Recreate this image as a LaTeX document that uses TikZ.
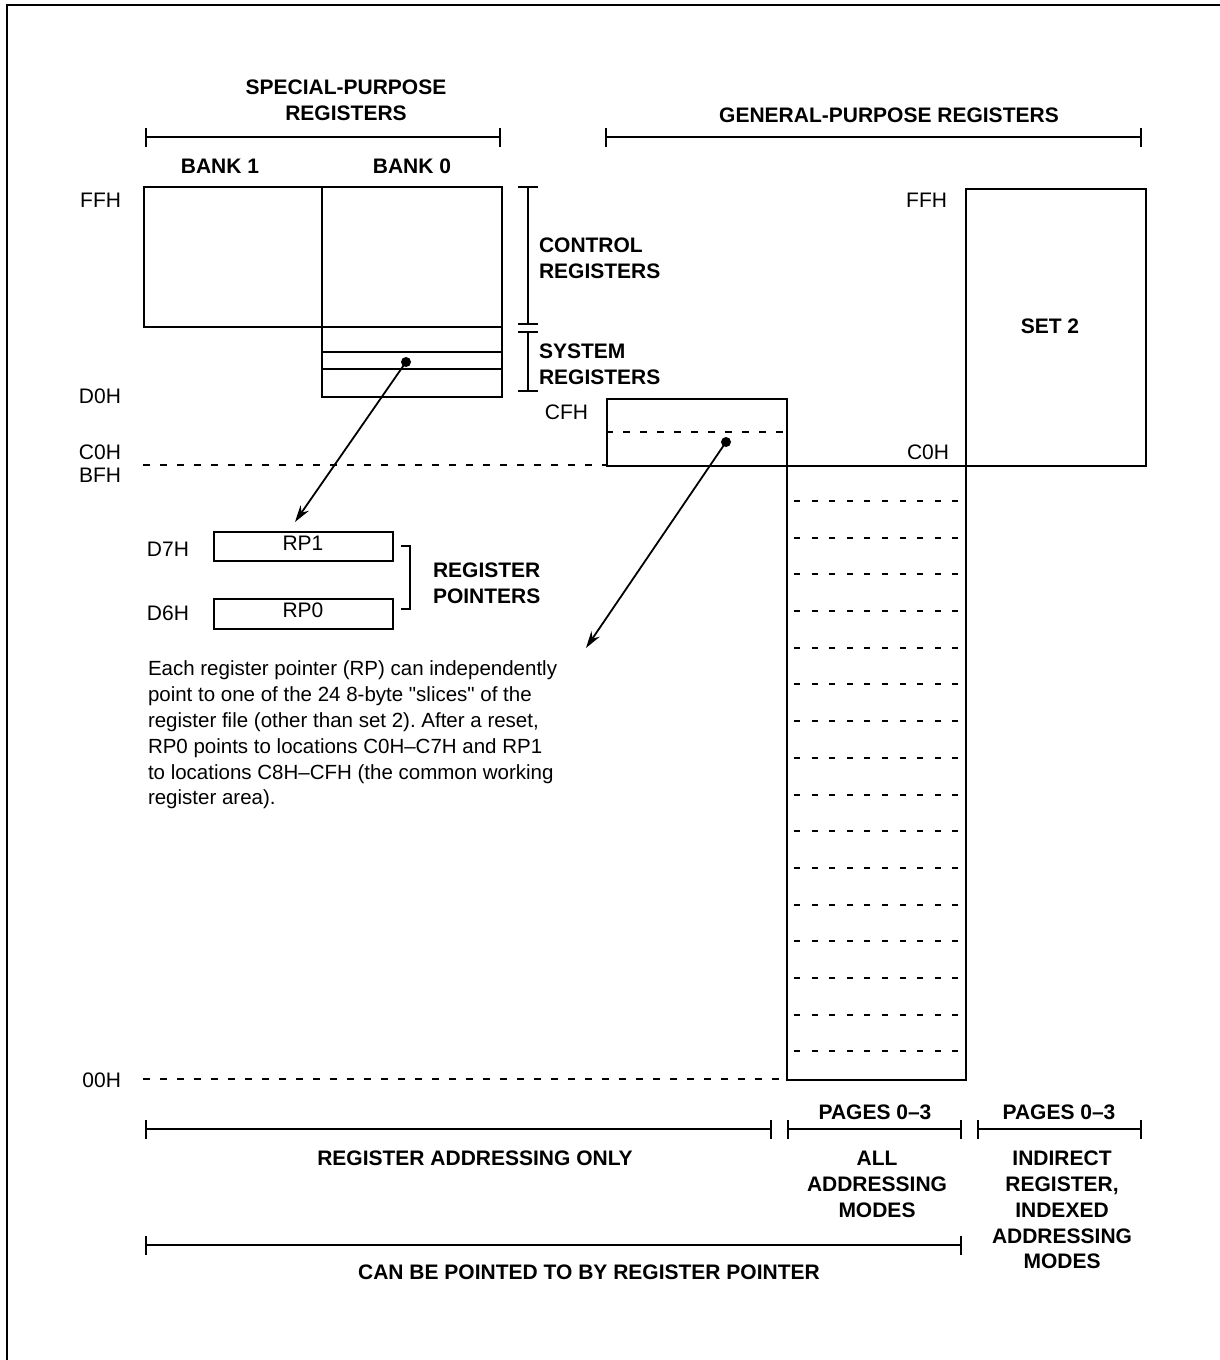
\documentclass[tikz,border=0pt]{standalone}
\usepackage{fontspec}
\setmainfont{Liberation Sans}[Ligatures=TeXOff]
\usetikzlibrary{arrows.meta}
\begin{document}
\frenchspacing
\begin{tikzpicture}[x=1pt,y=-1pt,line width=2pt,
  lbl/.style={font=\fontsize{21}{26}\selectfont,inner sep=0pt},
  blbl/.style={font=\fontsize{21}{25.8}\selectfont\bfseries,inner sep=0pt,align=center},
  regbox/.style={draw,line width=2pt,inner sep=0pt,anchor=north west},
  dashline/.style={dash pattern=on 7pt off 10pt,line width=2pt},
  inner/.style={dash pattern=on 6pt off 11.6pt,line width=2pt},
  span/.style={{Bar[width=19pt]}-{Bar[width=19pt]},line width=2pt},
  ptr/.style={-{Stealth[length=17pt,width=10pt]},line width=1.8pt},
]
\useasboundingbox (0,0) rectangle (1220,1360);
% frame (top and left edges visible)
\draw[line width=2.2pt] (7,1360) -- (7,5) -- (1220,5);

% ---------- top headings ----------
\node[blbl] (sptitle) at (346,100) {SPECIAL-PURPOSE\\REGISTERS};
\draw[span] (145,137) -- (501,137);
\node[blbl] (gptitle) at (889,115) {GENERAL-PURPOSE REGISTERS};
\draw[span] (605,137) -- (1142,137);
\node[blbl] (bank1lbl) at (220,166) {BANK 1};
\node[blbl] (bank0lbl) at (412,166) {BANK 0};

% ---------- special purpose boxes ----------
\node[regbox,minimum width=178pt,minimum height=140pt] (bank1) at (143,186) {};
\node[regbox,minimum width=180pt,minimum height=140pt] (bank0) at (321,186) {};
\node[regbox,minimum width=180pt,minimum height=70pt] (sysreg) at (321,326) {};
\draw (321,352) -- (501,352);
\draw (321,369) -- (501,369);

% control / system brackets
\draw[{Bar[width=20pt]}-{Bar[width=20pt]}] (528,186) -- (528,325);
\draw[{Bar[width=20pt]}-{Bar[width=20pt]}] (528,331) -- (528,392);
\node[blbl,anchor=west,align=left] (ctrllbl) at (538,258) {CONTROL\\REGISTERS};
\node[blbl,anchor=west,align=left] (syslbl) at (538,364) {SYSTEM\\REGISTERS};

% address labels left
\node[lbl,anchor=east] (ffhL) at (122,200) {FFH};
\node[lbl,anchor=east] (d0hL) at (122,396) {D0H};
\node[lbl,anchor=east] (c0hL) at (122,452) {C0H};
\node[lbl,anchor=east] (bfhL) at (122,475) {BFH};
\node[lbl,anchor=east] (zeroL) at (122,1080) {00H};

% dotted boundary lines
\draw[dashline] (143,465) -- (606,465);
\draw[dashline] (143,1079) -- (786,1079);

% ---------- general purpose ----------
\node[regbox,minimum width=180pt,minimum height=67pt] (cfbox) at (606,398) {};
\draw[dashline] (606,432) -- (786,432);
\node[lbl,anchor=east] (cfhL) at (589,412) {CFH};

\node[regbox,minimum width=179pt,minimum height=614pt] (bigcol) at (786,465) {};
\foreach \i in {0,...,15}{
  \pgfmathsetmacro{\yy}{round(501+36.7*\i)}
  \draw[inner] (794,\yy) -- (962,\yy);
}

\node[regbox,minimum width=180pt,minimum height=277pt] (set2) at (965,188) {};
\node[blbl] (set2lbl) at (1050,326) {SET 2};
\node[lbl,anchor=east] (ffhR) at (948,200) {FFH};
\node[lbl,anchor=east] (c0hR) at (950,452) {C0H};

% ---------- register pointers ----------
\node[regbox,minimum width=179pt,minimum height=29pt] (rp1) at (213,531) {};
\node[lbl] (rp1lbl) at (303,543) {RP1};
\node[regbox,minimum width=179pt,minimum height=30pt] (rp0) at (213,598) {};
\node[lbl] (rp0lbl) at (303,610) {RP0};
\node[lbl,anchor=east] (d7h) at (190,549) {D7H};
\node[lbl,anchor=east] (d6h) at (190,613) {D6H};
\draw (401,546) -- (410,546) -- (410,609) -- (401,609);
\node[blbl,anchor=west,align=left] (rplbl) at (432,583) {REGISTER\\POINTERS};

\node[lbl,anchor=north west,align=left,font=\fontsize{20.5}{25.8}\selectfont] (para) at (147,660)
 {Each register pointer (RP) can independently\\
  point to one of the 24 8-byte "slices" of the\\
  register file (other than set 2). After a reset,\\
  RP0 points to locations C0H–C7H and RP1\\
  to locations C8H–CFH (the common working\\
  register area).};

% ---------- pointer arrows ----------
\coordinate (dotA) at (406,362);
\coordinate (tipA) at (295,522);
\fill (dotA) circle (5pt);
\draw[ptr] (dotA) -- (tipA);
\coordinate (dotB) at (726,442);
\coordinate (tipB) at (586,648);
\fill (dotB) circle (5pt);
\draw[ptr] (dotB) -- (tipB);

% ---------- bottom spans ----------
\draw[span] (145,1129) -- (772,1129);
\draw[span] (787,1129) -- (962,1129);
\draw[span] (977,1129) -- (1142,1129);
\draw[span] (145,1245) -- (962,1245);
\node[blbl] (pg1) at (875,1112) {PAGES 0–3};
\node[blbl] (pg2) at (1059,1112) {PAGES 0–3};
\node[blbl] (regonly) at (475,1158) {REGISTER ADDRESSING ONLY};
\node[blbl,anchor=north] (allmodes) at (877,1150) {ALL\\ADDRESSING\\MODES};
\node[blbl,anchor=north] (indmodes) at (1062,1150) {INDIRECT\\REGISTER,\\INDEXED\\ADDRESSING\\MODES};
\node[blbl] (canbe) at (589,1272) {CAN BE POINTED TO BY REGISTER POINTER};
\end{tikzpicture}
\end{document}
